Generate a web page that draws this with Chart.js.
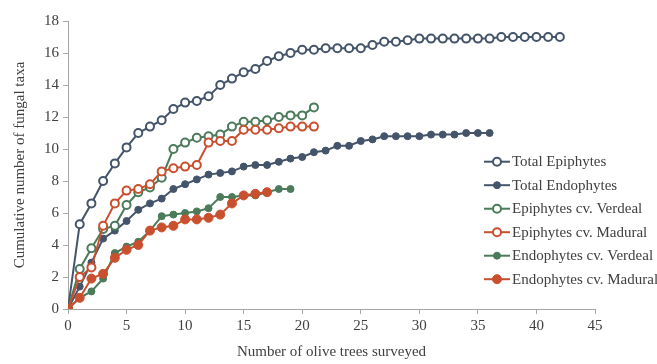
<!DOCTYPE html>
<html>
<head>
<meta charset="utf-8">
<script src="https://cdn.jsdelivr.net/npm/chart.js@4.4.0/dist/chart.umd.min.js"></script>
<style>
html,body{margin:0;padding:0;background:#fff;}
#wrap{width:657px;height:364px;position:relative;}
</style>
</head>
<body>
<div id="wrap"><canvas id="c" width="657" height="364"></canvas></div>
<script>
const seriesLabels = ["Total Epiphytes","Total Endophytes","Epiphytes cv. Verdeal","Epiphytes cv. Madural","Endophytes cv. Verdeal","Endophytes cv. Madural"];
const totalEpiphytes = [0,5.3,6.6,8.0,9.1,10.1,11.0,11.4,11.8,12.5,12.9,13.0,13.3,14.0,14.4,14.8,15.0,15.5,15.8,16.0,16.2,16.2,16.3,16.3,16.3,16.3,16.5,16.7,16.7,16.8,16.9,16.9,16.9,16.9,16.9,16.9,16.9,17.0,17.0,17.0,17.0,17.0,17.0];
const totalEndophytes = [0,1.4,2.9,4.4,4.9,5.5,6.2,6.6,6.9,7.5,7.8,8.1,8.4,8.5,8.6,8.9,9.0,9.0,9.2,9.4,9.5,9.8,9.9,10.2,10.2,10.5,10.6,10.8,10.8,10.8,10.8,10.9,10.9,10.9,11.0,11.0,11.0];
const epiphytesVerdeal = [0,2.5,3.8,5.0,5.2,6.5,7.3,7.6,8.2,10.0,10.4,10.7,10.8,10.9,11.4,11.7,11.7,11.8,12.0,12.1,12.1,12.6];
const epiphytesMadural = [0,2.0,2.6,5.2,6.6,7.4,7.5,7.8,8.6,8.8,8.9,9.0,10.4,10.5,10.5,11.2,11.2,11.2,11.3,11.4,11.4,11.4];
const endophytesVerdeal = [0,0.7,1.1,1.9,3.5,3.9,4.2,4.9,5.8,5.9,6.0,6.1,6.3,7.0,7.0,7.1,7.1,7.3,7.5,7.5];
const endophytesMadural = [0,0.7,1.9,2.2,3.2,3.7,4.0,4.9,5.1,5.2,5.6,5.6,5.7,5.9,6.6,7.1,7.2,7.3];
const xTicks = [0,5,10,15,20,25,30,35,40,45];
const yTicks = [0,2,4,6,8,10,12,14,16,18];

const NAVY = '#44546A', GREEN = '#4B7B5A', RED = '#C9502F';
const FONT = "'Liberation Serif','Times New Roman',serif";
const TXT = '#404040';

function pts(arr){ return arr.map((v,i)=>({x:i,y:v})); }
function ds(label, arr, color, open, r, order){
  return {label, data: pts(arr), borderColor: color, borderWidth: 2,
    pointBackgroundColor: open ? '#ffffff' : color, pointBorderColor: color,
    pointBorderWidth: open ? 2 : 1, pointRadius: r, pointHoverRadius: r,
    fill:false, tension:0, order};
}
const allSeries = [totalEpiphytes,totalEndophytes,epiphytesVerdeal,epiphytesMadural,endophytesVerdeal,endophytesMadural];
const colors = [NAVY,NAVY,GREEN,RED,GREEN,RED];
const open = [true,false,true,true,false,false];
const radii = [4,3.5,4,4,3.5,4.5];
const datasets = allSeries.map((a,i)=>ds(seriesLabels[i],a,colors[i],open[i],radii[i],6-i));

const legendPlugin = {
  id:'customLegend',
  afterDraw(chart){
    const ctx = chart.ctx;
    ctx.save();
    chart.data.datasets.forEach((d,i)=>{
      const y = 161.7 + i*23.5;
      ctx.strokeStyle = d.borderColor; ctx.lineWidth = 2;
      ctx.beginPath(); ctx.moveTo(484,y); ctx.lineTo(510,y); ctx.stroke();
      ctx.beginPath(); ctx.arc(497,y,d.pointRadius,0,Math.PI*2);
      ctx.fillStyle = d.pointBackgroundColor; ctx.fill();
      ctx.lineWidth = d.pointBorderWidth; ctx.strokeStyle = d.pointBorderColor; ctx.stroke();
      ctx.fillStyle = TXT; ctx.font = "15px " + FONT; ctx.textBaseline='middle'; ctx.textAlign='left';
      ctx.fillText(d.label, 512, y+0.5);
    });
    ctx.restore();
  }
};

new Chart(document.getElementById('c'), {
  type:'line',
  data:{datasets},
  options:{
    responsive:false, animation:false, devicePixelRatio:1,
    layout:{padding:{top:21,right:62,left:0,bottom:0}},
    plugins:{legend:{display:false}, tooltip:{enabled:false}},
    scales:{
      x:{type:'linear', min:0, max:45,
        afterBuildTicks(s){ s.ticks = xTicks.map(v=>({value:v})); },
        afterFit(s){ s.height = 55; },
        ticks:{font:{family:FONT,size:15}, color:TXT, padding:3, maxRotation:0},
        grid:{display:true, drawOnChartArea:false, drawTicks:true, tickLength:5, color:'#a6a6a6'},
        border:{display:true, color:'#a6a6a6', width:1},
        title:{display:true, text:'Number of olive trees surveyed', font:{family:FONT,size:15}, color:TXT, padding:{top:4,bottom:3}}
      },
      y:{min:0, max:18,
        afterBuildTicks(s){ s.ticks = yTicks.map(v=>({value:v})); },
        afterFit(s){ s.width = 68; },
        ticks:{font:{family:FONT,size:15}, color:TXT, padding:4},
        grid:{display:true, drawOnChartArea:false, drawTicks:true, tickLength:5, color:'#a6a6a6'},
        border:{display:true, color:'#a6a6a6', width:1},
        title:{display:true, text:'Cumulative number of fungal taxa', font:{family:FONT,size:15}, color:TXT, padding:{top:11,bottom:4}}
      }
    }
  },
  plugins:[legendPlugin]
});
</script>
</body>
</html>
